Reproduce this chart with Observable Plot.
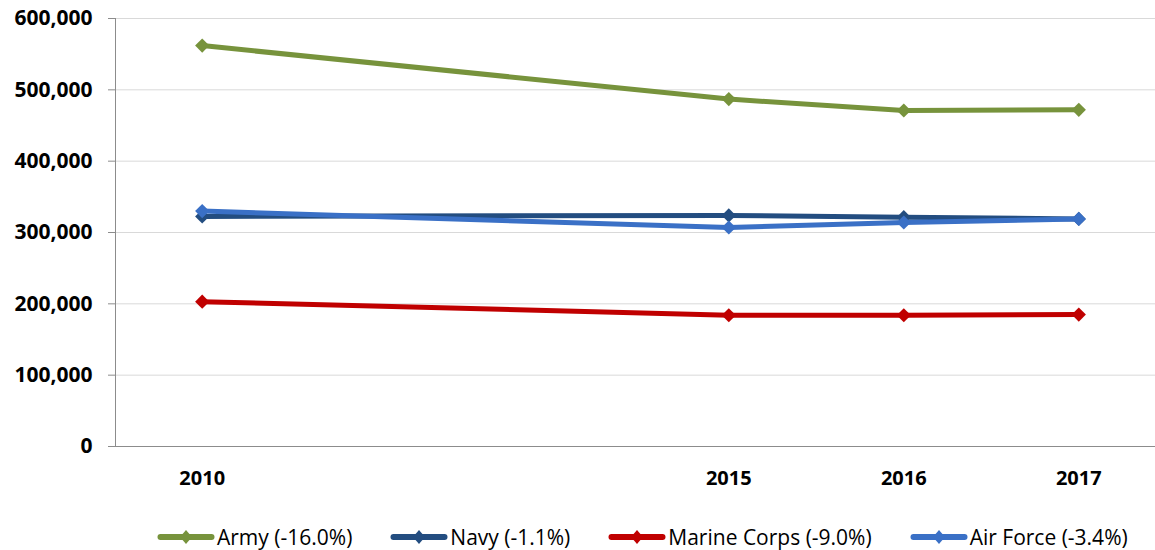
<!DOCTYPE html>
<html><head><meta charset="utf-8">
<script src="https://cdn.jsdelivr.net/npm/d3@7"></script>
<script src="https://cdn.jsdelivr.net/npm/@observablehq/plot@0.6"></script>
<style>
body{margin:0;background:#fff;font-family:"Open Sans",sans-serif;width:1155px;height:550px;overflow:hidden;}
#chart svg{display:block;}
#legend{height:50px;display:flex;align-items:center;padding-left:157px;padding-top:24px;box-sizing:border-box;font-size:21px;color:#000;white-space:nowrap;}
.item{display:flex;align-items:center;margin-right:38px;}
.item svg{margin-right:2px;}
</style></head><body>
<div id="chart"></div>
<div id="legend"></div>
<script>
const years = [2010, 2015, 2016, 2017];
const seriesNames = ["Army (-16.0%)", "Navy (-1.1%)", "Marine Corps (-9.0%)", "Air Force (-3.4%)"];
const army = [562000, 487000, 471000, 472000];
const navy = [322500, 324000, 321500, 319000];
const marineCorps = [203000, 184000, 184000, 185000];
const airForce = [330000, 307000, 314000, 319000];
const colors = ["#77933c", "#234d80", "#c00000", "#3a70c6"];
const yTicks = [0, 100000, 200000, 300000, 400000, 500000, 600000];

const values = [army, navy, marineCorps, airForce];
const data = seriesNames.flatMap((s, i) => years.map((yr, j) => ({series: s, year: yr, value: values[i][j]})));

const seriesMarks = seriesNames.flatMap((s, i) => {
  const d = data.filter(r => r.series === s);
  return [
    Plot.line(d, {x: "year", y: "value", stroke: colors[i], strokeWidth: 5}),
    Plot.dot(d, {x: "year", y: "value", fill: colors[i], symbol: "diamond2", r: 6.4, stroke: "none"})
  ];
});

const chart = Plot.plot({
  width: 1155,
  height: 500,
  marginTop: 18,
  marginBottom: 54,
  marginLeft: 115,
  marginRight: 0,
  style: {fontFamily: "'Open Sans', sans-serif", background: "#fff"},
  x: {type: "linear", domain: [2010, 2015, 2017], range: [201.7, 728.3, 1078.3]},
  y: {domain: [0, 600000]},
  marks: [
    Plot.gridY(yTicks, {stroke: "#d9d9d9", strokeOpacity: 1}),
    Plot.frame({anchor: "left", stroke: "#8c8c8c"}),
    Plot.frame({anchor: "bottom", stroke: "#8c8c8c"}),
    Plot.axisY(yTicks, {tickSize: 7, tickPadding: 16, tickFormat: d3.format(","), fontSize: 21, fontWeight: "bold", fill: "#000", stroke: "#8c8c8c", label: null}),
    Plot.axisX(years, {tickSize: 0, tickPadding: 24, tickFormat: d => String(d), fontSize: 20, fontWeight: "bold", fill: "#000", label: null}),
    ...seriesMarks
  ]
});
document.getElementById("chart").appendChild(chart);

const legend = document.getElementById("legend");
seriesNames.forEach((s, i) => {
  const item = document.createElement("div");
  item.className = "item";
  item.innerHTML = `<svg width="58" height="16" viewBox="0 0 58 16"><line x1="3.5" y1="8" x2="54.5" y2="8" stroke="${colors[i]}" stroke-width="6" stroke-linecap="round"/><polygon points="29,1 35,8 29,15 23,8" fill="${colors[i]}"/></svg><span>${s}</span>`;
  legend.appendChild(item);
});
</script>
</body></html>
